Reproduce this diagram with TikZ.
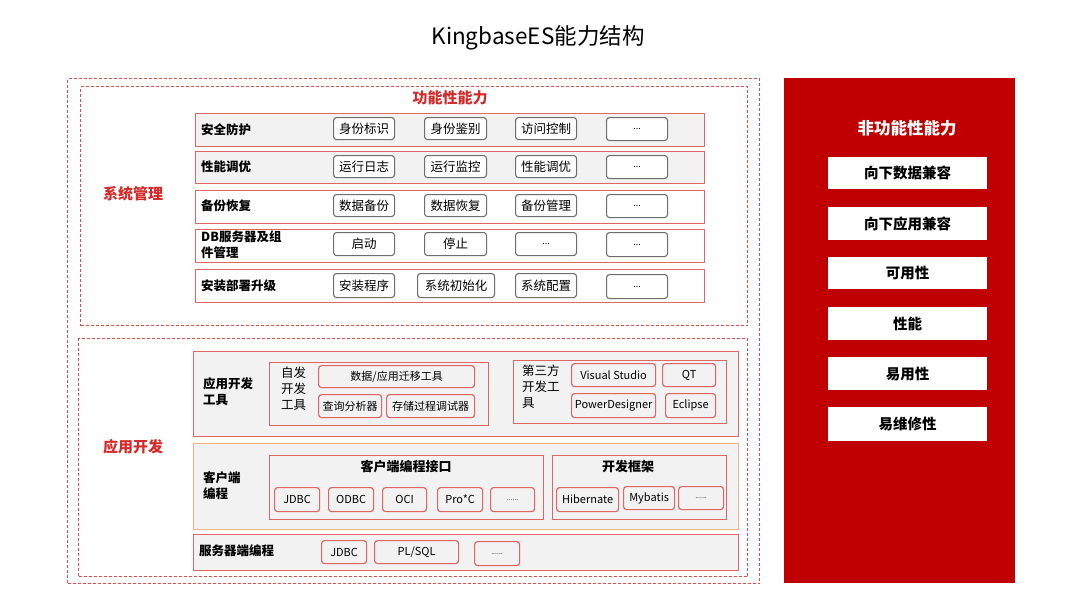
\documentclass[tikz,border=0pt]{standalone}
\usepackage{fontspec}
\setmainfont{Noto Sans CJK SC}
\definecolor{rowred}{HTML}{E06666}
\definecolor{dashred}{HTML}{E24A4A}
\definecolor{labred}{HTML}{D42A2A}
\definecolor{panel}{HTML}{C00000}
\definecolor{bggray}{HTML}{F2F2F2}
\definecolor{pillgray}{HTML}{6E6E6E}
\definecolor{orangeb}{HTML}{F4B183}
\newcommand\B[7]{\node[#1,anchor=north west,inner sep=0pt,minimum width={(#5-#3)*1pt},minimum height={(#6-#4)*1pt}] (#2) at (#3,#4) {#7};}
\newcommand\fs[1]{\fontsize{#1}{#1}\selectfont}
\newcommand\fsl[2]{\fontsize{#1}{#2}\selectfont}
\tikzset{
  dashbox/.style={draw=dashred,line width=1.1pt,dash pattern=on 3pt off 2pt},
  rowbox/.style={draw=rowred,line width=1.4pt,fill=white},
  rowgray/.style={rowbox,fill=bggray},
  gpill/.style={draw=pillgray,line width=1.1pt,rounded corners=3pt,fill=white,font=\fs{12.5}},
  rpill/.style={draw=rowred,line width=1.2pt,rounded corners=3pt,fill=bggray,font=\fs{11}},
  rowlab/.style={anchor=west,inner sep=0pt,font=\fsl{12.5}{16}\bfseries,align=left},
  seclab/.style={inner sep=0pt,font=\fs{15}\bfseries,text=labred},
  wbox/.style={fill=white,font=\fs{14.5}\bfseries},
  subtitle/.style={inner sep=0pt,font=\fs{13}\bfseries},
}
\begin{document}
\begin{tikzpicture}[x=1pt,y=-1pt]
\useasboundingbox[fill=white] (0,0) rectangle (1080,608);
\node[inner sep=0pt,font=\fs{22.5}] (title) at (538,38) {KingbaseES能力结构};
% outer dashed
\B{dashbox}{outer}{67}{78}{759}{583}{}
\B{dashbox}{sys}{80}{86}{747}{325}{}
\B{dashbox}{app}{78}{338}{747}{576}{}
\node[seclab] (syslab) at (133,194) {系统管理};
\node[seclab] (funlab) at (450,98) {功能性能力};
\node[seclab] (applab) at (133,447) {应用开发};
% rows
\B{rowgray}{r1}{195}{113}{704}{146}{}
\B{rowgray}{r2}{195}{151}{704}{183}{}
\B{rowbox}{r3}{195}{190}{704}{223}{}
\B{rowbox}{r4}{195}{229}{704}{262}{}
\B{rowbox}{r5}{195}{269}{704}{302}{}
\node[rowlab] (l1) at (201,129.5) {安全防护};
\node[rowlab] (l2) at (201,167) {性能调优};
\node[rowlab] (l3) at (201,206) {备份恢复};
\node[rowlab] (l4) at (201,245) {DB服务器及组\\件管理};
\node[rowlab] (l5) at (201,286) {安装部署升级};
% pills row1
\B{gpill}{p11}{333}{117}{394}{139}{身份标识}
\B{gpill}{p12}{424}{117}{486}{139}{身份鉴别}
\B{gpill}{p13}{515}{117}{576}{139}{访问控制}
\B{gpill}{p14}{606}{117}{667}{140}{\fs{9}...}
\B{gpill}{p21}{333}{155}{394}{177}{运行日志}
\B{gpill}{p22}{424}{155}{486}{177}{运行监控}
\B{gpill}{p23}{515}{155}{576}{177}{性能调优}
\B{gpill}{p24}{606}{155}{667}{178}{\fs{9}...}
\B{gpill}{p31}{333}{194}{394}{216}{数据备份}
\B{gpill}{p32}{424}{194}{486}{216}{数据恢复}
\B{gpill}{p33}{515}{194}{576}{216}{备份管理}
\B{gpill}{p34}{606}{194}{667}{217}{\fs{9}...}
\B{gpill}{p41}{333}{232}{394}{255}{启动}
\B{gpill}{p42}{424}{232}{486}{255}{停止}
\B{gpill}{p43}{515}{232}{576}{255}{\fs{9}...}
\B{gpill}{p44}{606}{232}{667}{256}{\fs{9}...}
\B{gpill}{p51}{333}{273}{394}{297}{安装程序}
\B{gpill}{p52}{417}{273}{494}{297}{系统初始化}
\B{gpill}{p53}{515}{273}{576}{297}{系统配置}
\B{gpill}{p54}{606}{274}{667}{298}{\fs{9}...}
% app dev tools
\B{rowgray}{tools}{193}{351}{738}{436}{}
\node[rowlab] (ltools) at (203,392) {应用开发\\工具};
\B{rowgray}{self}{269}{362}{488}{425}{}
\node[rowlab,font=\fsl{12.5}{16},align=center] (lself) at (281,389) {自发\\开发\\工具};
\B{rpill}{s1}{318}{365}{474}{387}{数据/应用迁移工具}
\B{rpill}{s2}{318}{394}{381}{417}{查询分析器}
\B{rpill}{s3}{386}{394}{474}{417}{存储过程调试器}
\B{rowgray}{third}{513}{360}{726}{423}{}
\node[rowlab,font=\fsl{12.5}{16}] (lthird) at (522,387) {第三方\\开发工\\具};
\B{rpill}{t1}{571}{363}{655}{386}{Visual Studio}
\B{rpill}{t2}{662}{363}{715}{386}{QT}
\B{rpill}{t3}{571}{393}{655}{417}{PowerDesigner}
\B{rpill}{t4}{665}{393}{715}{417}{Eclipse}
% client programming
\node[draw=orangeb,line width=1.4pt,fill=bggray,anchor=north west,inner sep=0pt,minimum width=545pt,minimum height=86pt] (client) at (193,443) {};
\node[rowlab] (lclient) at (203,486) {客户端\\编程};
\B{rowgray}{cif}{269}{455}{543}{519}{}
\node[subtitle] (cift) at (406,467) {客户端编程接口};
\B{rpill}{c1}{274}{487}{319}{511}{JDBC}
\B{rpill}{c2}{328}{487}{373}{511}{ODBC}
\B{rpill}{c3}{382}{487}{426}{511}{OCI}
\B{rpill}{c4}{437}{487}{482}{511}{Pro*C}
\B{rpill}{c5}{490}{487}{534}{511}{\fs{7}......}
\B{rowgray}{fw}{552}{455}{726}{519}{}
\node[subtitle] (fwt) at (628,467) {开发框架};
\B{rpill}{f1}{556}{487}{618}{511}{Hibernate}
\B{rpill}{f2}{623}{486}{674}{509}{Mybatis}
\B{rpill}{f3}{678}{486}{723}{509}{\fs{7}......}
% server
\B{rowgray}{server}{193}{534}{738}{570}{}
\node[rowlab] (lserver) at (199,551) {服务器端编程};
\B{rpill}{v1}{321}{540}{366}{563}{JDBC}
\B{rpill}{v2}{374}{540}{458}{563}{PL/SQL}
\B{rpill}{v3}{474}{541}{519}{565}{\fs{7}......}
% right panel
\B{fill=panel}{panelbox}{784}{78}{1015}{583}{}
\node[inner sep=0pt,font=\fs{16.5}\bfseries,text=white] (nf) at (907,128) {非功能性能力};
\B{wbox}{w1}{828}{157}{987}{189}{向下数据兼容}
\B{wbox}{w2}{828}{207}{987}{240}{向下应用兼容}
\B{wbox}{w3}{828}{257}{987}{289}{可用性}
\B{wbox}{w4}{828}{307}{987}{340}{性能}
\B{wbox}{w5}{828}{357}{987}{390}{易用性}
\B{wbox}{w6}{828}{407}{987}{441}{易维修性}
\end{tikzpicture}
\end{document}
